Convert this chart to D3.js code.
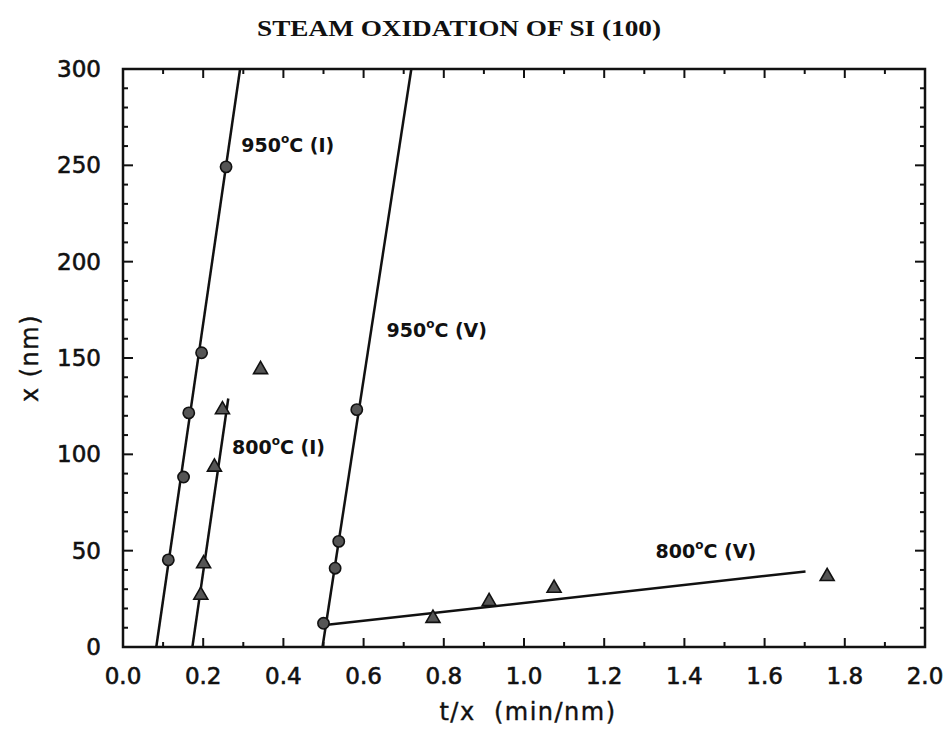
<!DOCTYPE html>
<html>
<head>
<meta charset="utf-8">
<script src="https://cdn.jsdelivr.net/npm/d3@7/dist/d3.min.js"></script>
<style>
  html, body { margin: 0; padding: 0; background: #fff; }
  svg { display: block; }
</style>
</head>
<body>
<svg id="chart" width="950" height="731"></svg>
<script>
// ---- data ----
const circles950I = [[0.113, 45.2], [0.151, 88.2], [0.164, 121.5], [0.196, 152.7], [0.257, 249.2]];
const triangles800I = [[0.194, 26.9], [0.201, 43.2], [0.228, 93.4], [0.248, 123.2], [0.343, 144.0]];
const circles950V = [[0.500, 12.3], [0.529, 40.9], [0.538, 54.8], [0.583, 123.2]];
const triangles800V = [[0.773, 14.9], [0.913, 23.6], [1.075, 30.5], [1.756, 36.6]];

const fit950I = [[0.083, 0], [0.292, 300]];
const fit800I = [[0.173, 0], [0.2625, 129]];
const fit950V = [[0.4975, 0], [0.719, 300]];
const fit800V = [[0.504, 11.4], [1.702, 39.2]];

const labelTemps = ["950", "950", "800", "800"];
const labelModes = ["(I)", "(V)", "(I)", "(V)"];
const labelAt = [[0.295, 257], [0.657, 161], [0.272, 100], [1.328, 46]];

const xTickLabels = ["0.0", "0.2", "0.4", "0.6", "0.8", "1.0", "1.2", "1.4", "1.6", "1.8", "2.0"];
const yTickLabels = ["0", "50", "100", "150", "200", "250", "300"];

const titleText = "STEAM OXIDATION OF SI (100)";
const xTitle = "t/x\u00a0\u00a0(min/nm)";
const yTitle = "x (nm)";

// ---- layout ----
const svg = d3.select("#chart");
const L = 123, R = 925, T = 69, B = 647;
const x = d3.scaleLinear().domain([0, 2]).range([L, R]);
const y = d3.scaleLinear().domain([0, 300]).range([B, T]);
const sans = "'DejaVu Sans', Verdana, sans-serif";

// title
svg.append("text")
  .attr("x", 459).attr("y", 36)
  .attr("text-anchor", "middle")
  .attr("font-family", "'Liberation Serif', 'Times New Roman', serif")
  .attr("font-weight", "bold")
  .attr("font-size", 23)
  .attr("fill", "#111")
  .attr("textLength", 404)
  .attr("lengthAdjust", "spacingAndGlyphs")
  .text(titleText);

// ticks (inward on all four sides)
const xMinor = d3.range(0, 2.0001, 0.1);
const yMinor = d3.range(0, 300.001, 10);
const isMajorX = v => Math.abs(v * 5 - Math.round(v * 5)) < 1e-6;
const isMajorY = v => Math.abs(v % 50) < 1e-6;
const tickG = svg.append("g").attr("stroke", "#111").attr("stroke-width", 2);
xMinor.forEach(v => {
  const len = isMajorX(v) ? 9 : 5;
  tickG.append("line").attr("x1", x(v)).attr("x2", x(v)).attr("y1", B).attr("y2", B - len);
  tickG.append("line").attr("x1", x(v)).attr("x2", x(v)).attr("y1", T).attr("y2", T + len);
});
yMinor.forEach(v => {
  const len = isMajorY(v) ? 10 : 5;
  tickG.append("line").attr("y1", y(v)).attr("y2", y(v)).attr("x1", L).attr("x2", L + len);
  tickG.append("line").attr("y1", y(v)).attr("y2", y(v)).attr("x1", R).attr("x2", R - len);
});

// frame
svg.append("rect")
  .attr("x", L).attr("y", T).attr("width", R - L).attr("height", B - T)
  .attr("fill", "none").attr("stroke", "#111").attr("stroke-width", 2.5);

// tick labels
const labStyle = sel => sel
  .attr("font-family", sans).attr("font-size", 23).attr("fill", "#111")
  .attr("stroke", "#111").attr("stroke-width", 0.6);
svg.append("g").selectAll("text").data(xTickLabels).join("text")
  .attr("x", d => x(+d)).attr("y", 684)
  .attr("text-anchor", "middle")
  .call(labStyle)
  .text(d => d);
svg.append("g").selectAll("text").data(yTickLabels).join("text")
  .attr("x", L - 22).attr("y", d => y(+d) + 8)
  .attr("text-anchor", "end")
  .call(labStyle)
  .text(d => d);

// axis titles
svg.append("text")
  .attr("x", 528).attr("y", 720)
  .attr("text-anchor", "middle")
  .attr("font-family", sans).attr("font-size", 24).attr("letter-spacing", 1.5)
  .attr("fill", "#111").attr("stroke", "#111").attr("stroke-width", 0.4)
  .text(xTitle);
svg.append("text")
  .attr("transform", "translate(38,358) rotate(-90)")
  .attr("text-anchor", "middle")
  .attr("font-family", sans).attr("font-size", 24).attr("letter-spacing", 1.5)
  .attr("fill", "#111").attr("stroke", "#111").attr("stroke-width", 0.4)
  .text(yTitle);

// fit lines
const line = d3.line().x(d => x(d[0])).y(d => y(d[1]));
[fit950I, fit800I, fit950V, fit800V].forEach(f => {
  svg.append("path").attr("d", line(f))
    .attr("fill", "none").attr("stroke", "#111").attr("stroke-width", 2.5);
});

// markers
const circleSym = d3.symbol().type(d3.symbolCircle).size(100);
const triSym = d3.symbol().type(d3.symbolTriangle).size(85);
function drawPts(data, sym) {
  svg.append("g").selectAll("path").data(data).join("path")
    .attr("transform", d => `translate(${x(d[0])},${y(d[1])})`)
    .attr("d", sym)
    .attr("fill", "#555").attr("stroke", "#111").attr("stroke-width", 1.6);
}
drawPts(circles950I, circleSym);
drawPts(circles950V, circleSym);
drawPts(triangles800I, triSym);
drawPts(triangles800V, triSym);

// curve labels
labelAt.forEach((p, i) => {
  const t = svg.append("text")
    .attr("x", x(p[0])).attr("y", y(p[1]))
    .attr("font-family", sans).attr("font-weight", "bold")
    .attr("font-size", 19).attr("fill", "#111");
  t.append("tspan").text(labelTemps[i]);
  t.append("tspan").attr("font-size", 12).attr("dy", -9).text("o");
  t.append("tspan").attr("dy", 9).text("C " + labelModes[i]);
});
</script>
</body>
</html>
